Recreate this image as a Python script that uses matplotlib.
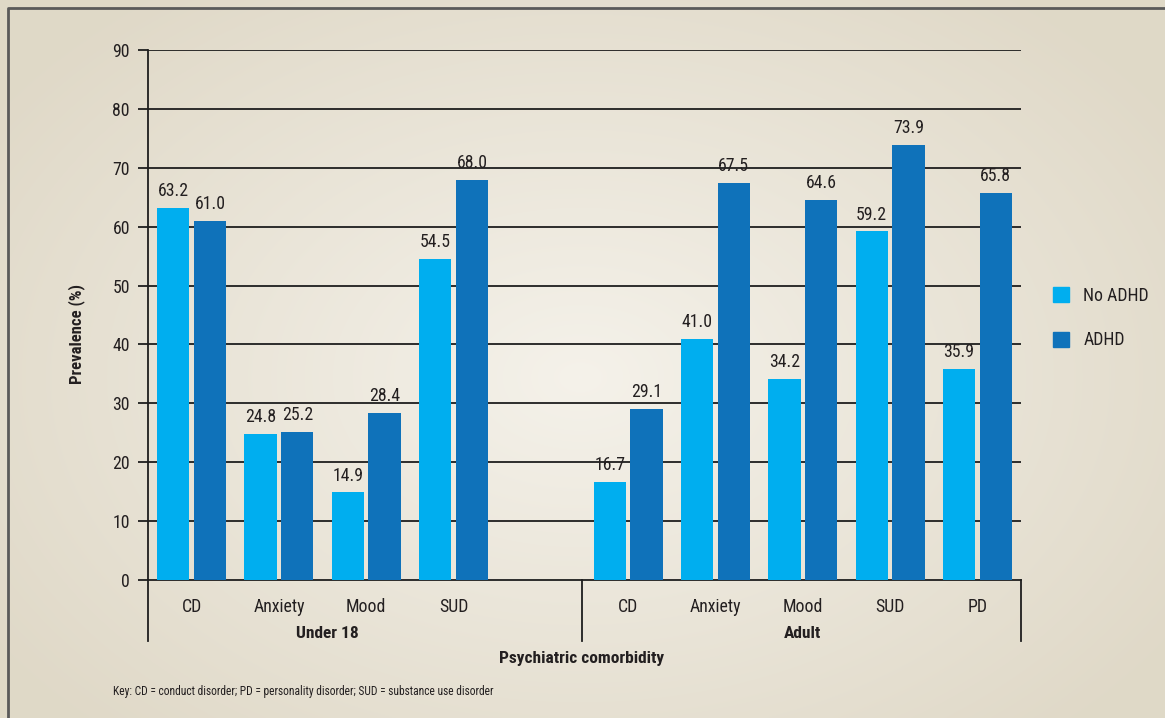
import numpy as np
import matplotlib
matplotlib.use("Agg")
import matplotlib.pyplot as plt
from matplotlib.patches import Rectangle
from matplotlib.lines import Line2D
from matplotlib import font_manager

names = {f.name for f in font_manager.fontManager.ttflist}
fams = [f for f in ['DejaVu Sans Condensed', 'Liberation Sans Narrow', 'Roboto Condensed'] if f in names]
plt.rcParams['font.family'] = fams + ['DejaVu Sans']
narrow = bool(fams)
fs = 12.8 if narrow else 10.5

# data
under18_cats = ['CD', 'Anxiety', 'Mood', 'SUD']
adult_cats = ['CD', 'Anxiety', 'Mood', 'SUD', 'PD']
under18_no_adhd = [63.2, 24.8, 14.9, 54.5]
under18_adhd = [61.0, 25.2, 28.4, 68.0]
adult_no_adhd = [16.7, 41.0, 34.2, 59.2, 35.9]
adult_adhd = [29.1, 67.5, 64.6, 73.9, 65.8]
series_names = ['No ADHD', 'ADHD']
group_names = ['Under 18', 'Adult']

light = '#00AEEF'
dark = '#0F72BA'
txt = '#231F20'
line_c = '#1e1e1e'

fig = plt.figure(figsize=(11.65, 7.18), dpi=100)

# radial background
bg = fig.add_axes([0, 0, 1, 1], zorder=-10)
yy, xx = np.mgrid[0:718, 0:1165]
r = np.sqrt(((xx - 580) / 700.0) ** 2 + ((yy - 340) / 480.0) ** 2)
r = np.clip(r, 0, 1)
c0 = np.array([0.960, 0.948, 0.918])
c1 = np.array([0.878, 0.851, 0.784])
img = c0[None, None, :] * (1 - r[..., None]) + c1[None, None, :] * r[..., None]
bg.imshow(img, aspect='auto', extent=[0, 1165, 0, 718])
bg.axis('off')
# frame: left and top edges only
bg.plot([8, 8, 1165], [718, 7.5, 7.5], color='#5a5a5a', linewidth=2)
bg.set_xlim(0, 1165)
bg.set_ylim(718, 0)

ax = fig.add_axes([148 / 1165, 1 - 580 / 718, (1021 - 148) / 1165, 530 / 718])
ax.set_facecolor('none')

x_u = np.arange(len(under18_cats))
x_a = np.arange(len(adult_cats)) + len(under18_cats) + 1
w = 0.37
off = 0.21

groups = [(x_u, under18_no_adhd, under18_adhd), (x_a, adult_no_adhd, adult_adhd)]
for xs, v1, v2 in groups:
    b1 = ax.bar(xs - off, v1, w, color=light, zorder=3)
    b2 = ax.bar(xs + off, v2, w, color=dark, zorder=3)
    for bars, vals in ((b1, v1), (b2, v2)):
        for b, v in zip(bars, vals):
            ax.text(b.get_x() + b.get_width() / 2, v + 1.3, f'{v:.1f}',
                    ha='center', va='bottom', fontsize=fs, color=txt)

ax.set_xlim(-0.5, len(under18_cats) + len(adult_cats) + 0.5)
ax.set_ylim(0, 90)
ax.set_yticks(np.arange(0, 91, 10))
for y in np.arange(10, 91, 10):
    ax.axhline(y, color=line_c, linewidth=1.3, zorder=1)
ax.tick_params(axis='y', length=7, width=1.3, color=line_c, labelsize=fs,
               labelcolor=txt, pad=6)
ax.set_xticks(list(x_u) + list(x_a))
ax.set_xticklabels(under18_cats + adult_cats, fontsize=fs, color=txt)
ax.tick_params(axis='x', length=0, pad=13)
for s in ['top', 'right']:
    ax.spines[s].set_visible(False)
for s in ['left', 'bottom']:
    ax.spines[s].set_color(line_c)
    ax.spines[s].set_linewidth(1.3)

# group separators and names
trans = ax.get_xaxis_transform()
sep_x = [-0.5, len(under18_cats) + 0.5 - 0.03, len(under18_cats) + len(adult_cats) + 0.5]
for sx in sep_x:
    ax.add_line(Line2D([sx, sx], [0, -0.115], transform=trans, color=line_c,
                       linewidth=1.3, clip_on=False))
ax.text(x_u.mean() + 0.05, -0.1, group_names[0], transform=trans, ha='center', va='center',
        fontsize=12.5, fontweight='bold', color=txt)
ax.text(x_a.mean(), -0.1, group_names[1], transform=trans, ha='center', va='center',
        fontsize=12.5, fontweight='bold', color=txt)

ax.set_ylabel('Prevalence (%)', fontsize=12, fontweight='bold', color=txt)
ax.yaxis.set_label_coords(-0.072, 0.465)
fig.text(582 / 1165, 1 - 658 / 718, 'Psychiatric comorbidity', ha='center', va='center',
         fontsize=12.5, fontweight='bold', color=txt)
fig.text(113 / 1165, 1 - 692 / 718,
         'Key: CD = conduct disorder; PD = personality disorder; SUD = substance use disorder',
         ha='left', va='center', fontsize=8.3, color=txt)

handles = [Rectangle((0, 0), 1, 1, color=light), Rectangle((0, 0), 1, 1, color=dark)]
fig.legend(handles, series_names, loc='center left', bbox_to_anchor=(1037 / 1165, 1 - 318 / 718),
           frameon=False, fontsize=fs, handlelength=0.9, handleheight=0.9,
           labelspacing=1.5, handletextpad=0.8, labelcolor=txt)

fig.savefig('out.png', dpi=100)
